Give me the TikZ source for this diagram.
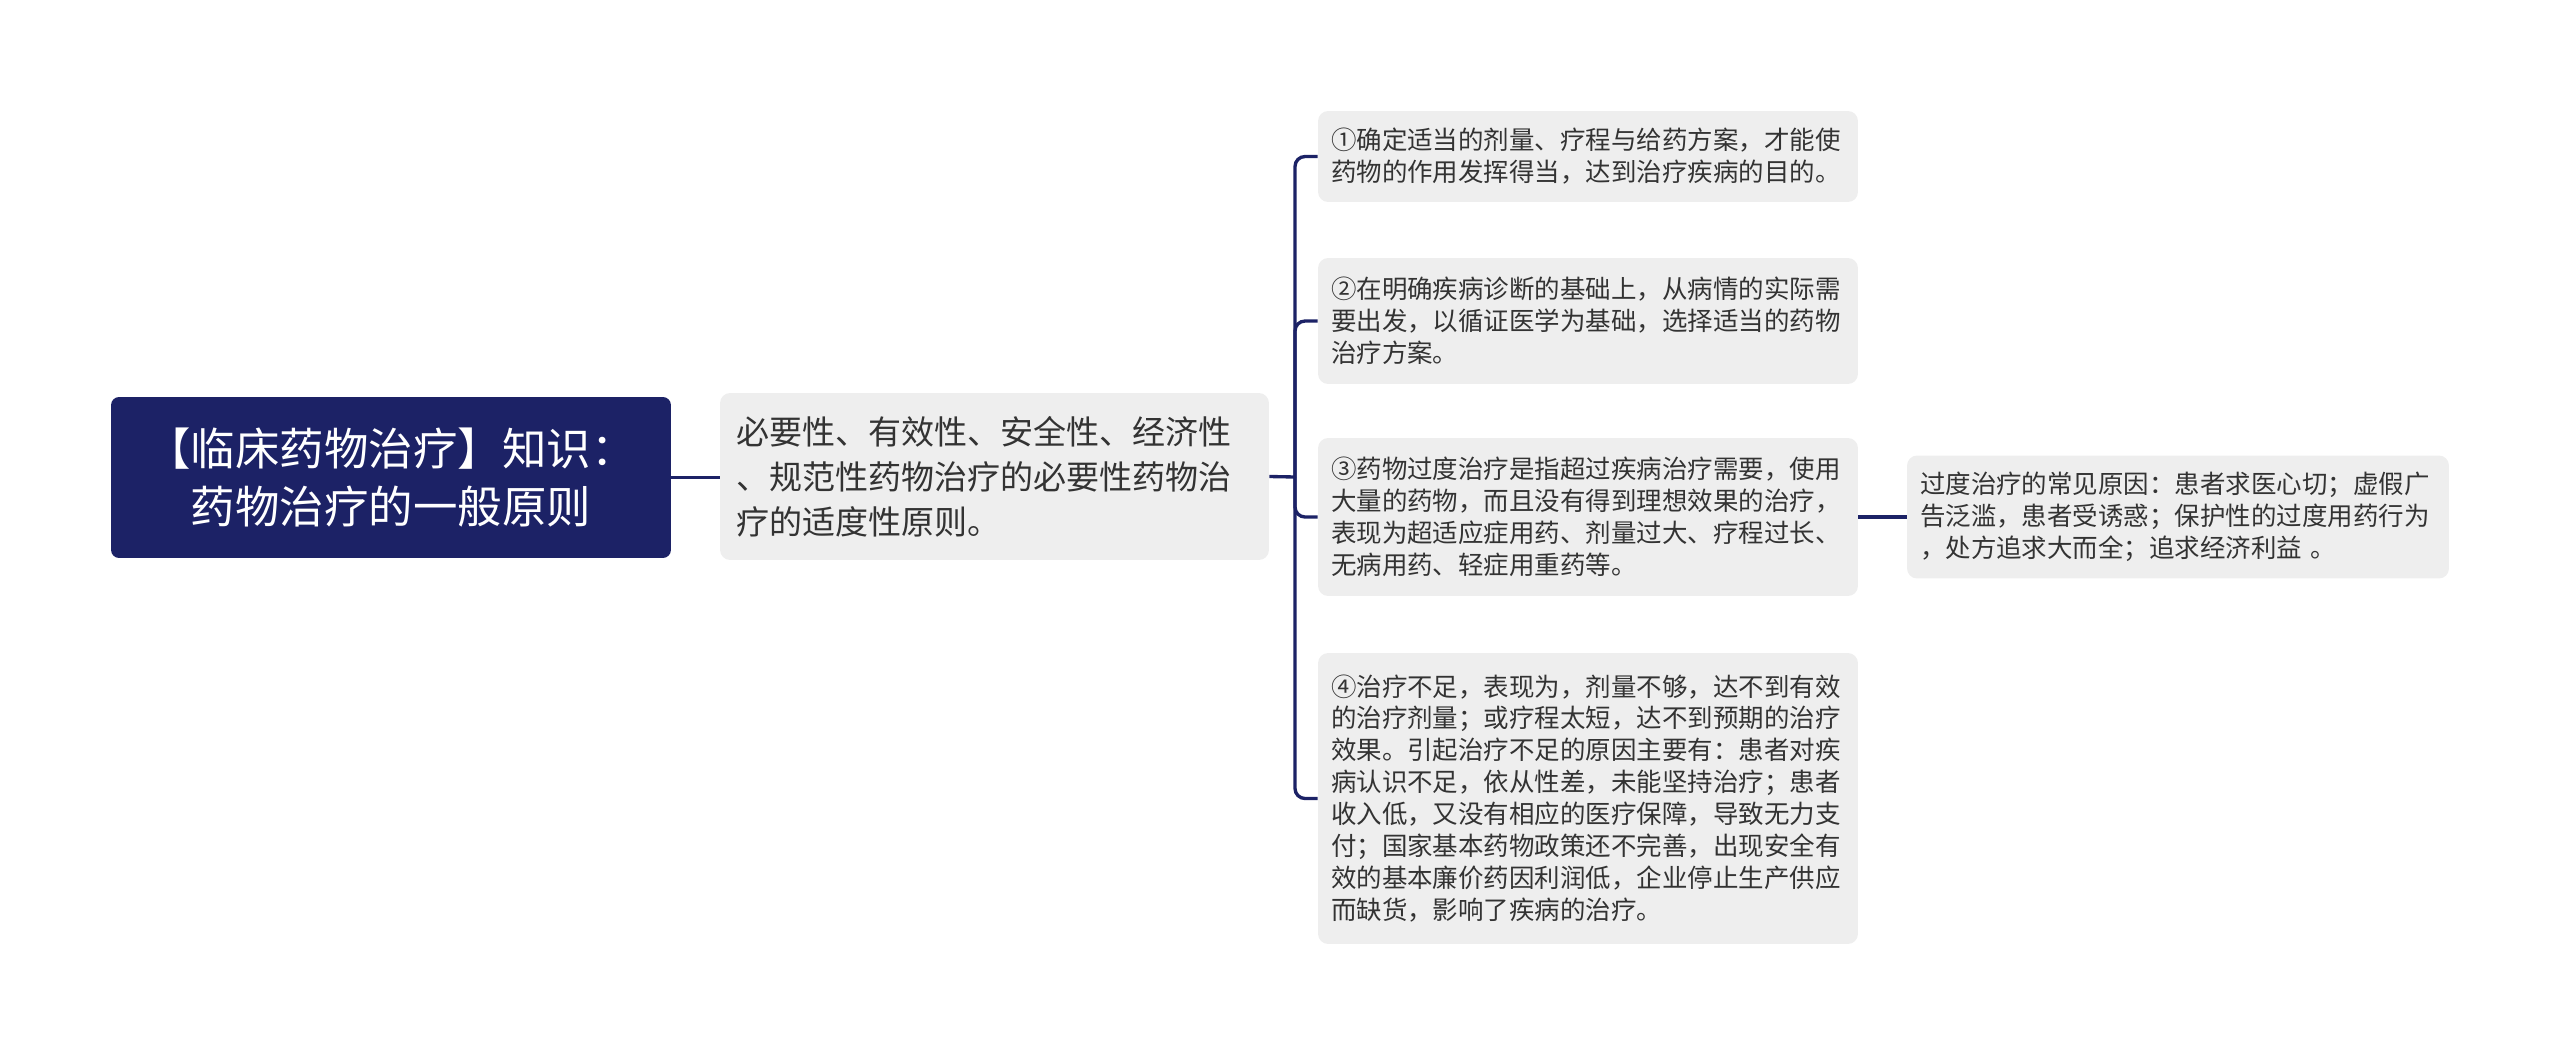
\documentclass[tikz,border=0pt]{standalone}
\usepackage{fontspec}
\setmainfont{Noto Sans CJK SC}
\usepackage{tikz}
\definecolor{navy}{RGB}{28,34,102}
\definecolor{boxgrey}{RGB}{238,238,238}
\definecolor{ink}{RGB}{51,51,51}

\begin{document}
\begin{tikzpicture}[x = 0.02cm, y = -0.02cm,
                        root/.style = {rectangle, rounded corners = 0.16cm, fill = navy, text = white, align = center, inner sep = 0pt, minimum width = 11.2cm, minimum height = 3.22cm, font = \fontsize{25.3}{33.5}\selectfont},
                        topic/.style = {rectangle, rounded corners = 0.2cm, fill = boxgrey, text = ink, align = left, inner xsep = 0.32cm, inner ysep = 0pt, text width = 10.34cm, minimum height = 3.34cm, font = \fontsize{18.8}{25.5}\selectfont},
                        leaf/.style = {rectangle, rounded corners = 0.2cm, fill = boxgrey, text = ink, align = left, inner xsep = 0.26cm, inner ysep = 0pt, text width = 10.28cm, font = \fontsize{14.5}{18.2}\selectfont},
                        link/.style = {draw = navy, line width = 1.9pt, rounded corners = 0.2cm}]
      \useasboundingbox (0, 0) rectangle (2560, 1055);
      \node [root] (r) at (391, 477.5){【临床药物治疗】知识：\\药物治疗的一般原则};
      \node [topic] (t) at (994.5, 476.5){必要性、有效性、安全性、经济性\\、规范性药物治疗的必要性药物治\\疗的适度性原则。};
      \node [leaf, minimum height = 1.82cm] (c1) at (1588, 156.5){①确定适当的剂量、疗程与给药方案，才能使\\药物的作用发挥得当，达到治疗疾病的目的。};
      \node [leaf, minimum height = 2.52cm] (c2) at (1588, 321){②在明确疾病诊断的基础上，从病情的实际需\\要出发，以循证医学为基础，选择适当的药物\\治疗方案。};
      \node [leaf, minimum height = 3.16cm] (c3) at (1588, 517){③药物过度治疗是指超过疾病治疗需要，使用\\大量的药物，而且没有得到理想效果的治疗，\\表现为超适应症用药、剂量过大、疗程过长、\\无病用药、轻症用重药等。};
      \node [leaf, minimum height = 5.82cm] (c4) at (1588, 798.5){④治疗不足，表现为，剂量不够，达不到有效\\的治疗剂量；或疗程太短，达不到预期的治疗\\效果。引起治疗不足的原因主要有：患者对疾\\病认识不足，依从性差，未能坚持治疗；患者\\收入低，又没有相应的医疗保障，导致无力支\\付；国家基本药物政策还不完善，出现安全有\\效的基本廉价药因利润低，企业停止生产供应\\而缺货，影响了疾病的治疗。};
      \node [leaf, text width = 10.32cm, minimum height = 2.46cm] (g) at (2178, 517){过度治疗的常见原因：患者求医心切；虚假广\\告泛滥，患者受诱惑；保护性的过度用药行为\\，处方追求大而全；追求经济利益 。};
      \coordinate (spine) at (1295, 477);
      \draw [link] (r.east) -- (r.east -| t.west);
      \draw [link] (t.east) -- (spine);
      \foreach \c in {c1, c2, c3, c4}
        \draw [link] (spine) |- (\c.west);
      \draw [link] (c3.east) -- (g.west);
    \end{tikzpicture}
\end{document}
